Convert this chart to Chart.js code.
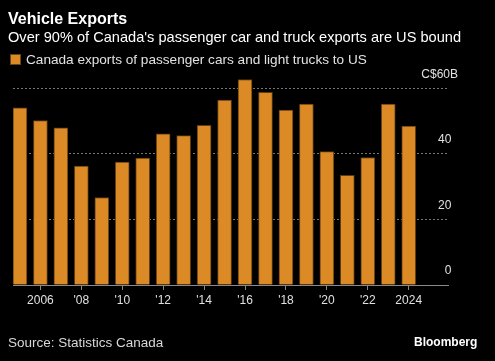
<!DOCTYPE html>
<html>
<head>
<meta charset="utf-8">
<script src="https://cdn.jsdelivr.net/npm/chart.js@4"></script>
<style>
  html, body { margin: 0; padding: 0; background: #000; }
  body { width: 495px; height: 361px; position: relative; overflow: hidden;
         font-family: "Liberation Sans", Arial, sans-serif; }
  #wrap { position: absolute; left: 0; top: 0; width: 495px; height: 361px; }
  .txt { position: absolute; white-space: nowrap; }
  #title { left: 8px; top: 11px; font-size: 16px; line-height: 16px; font-weight: bold; color: #fff; }
  #subtitle { left: 8px; top: 30px; font-size: 14.6px; line-height: 14px; color: #fff; }
  #legend { left: 10px; top: 53px; font-size: 13.6px; line-height: 13px; color: #e2e2e2; }
  #legend .box { display: inline-block; width: 9px; height: 9px; border: 1px solid #6b4513;
                 background: #db8a26; vertical-align: top; margin-top: 1px; margin-right: 5px; }
  #source { left: 8px; top: 336px; font-size: 13.5px; line-height: 13.5px; color: #d8d8d8; }
  #brand { left: 414px; top: 336px; font-size: 12px; line-height: 12px; font-weight: bold; color: #fff; }
</style>
</head>
<body>
<div id="wrap"><canvas id="bar-chart" width="495" height="361"></canvas></div>
<div class="txt" id="title">Vehicle Exports</div>
<div class="txt" id="subtitle">Over 90% of Canada's passenger car and truck exports are US bound</div>
<div class="txt" id="legend"><span class="box"></span><span id="legend-label"></span></div>
<div class="txt" id="source">Source: Statistics Canada</div>
<div class="txt" id="brand">Bloomberg</div>
<script>
// Canada exports of passenger cars and light trucks to US, C$ billions
var years = [2005, 2006, 2007, 2008, 2009, 2010, 2011, 2012, 2013, 2014,
             2015, 2016, 2017, 2018, 2019, 2020, 2021, 2022, 2023, 2024];
var exportsToUS = [54.1, 50.2, 48.0, 36.3, 26.7, 37.5, 38.7, 46.1, 45.6, 48.7,
                   56.4, 62.7, 58.8, 53.4, 55.2, 40.7, 33.5, 38.9, 55.2, 48.5];
var seriesLabel = 'Canada exports of passenger cars and light trucks to US';
var xTicks = [2006, 2008, 2010, 2012, 2014, 2016, 2018, 2020, 2022, 2024];
var yTicks = [0, 20, 40, 60];

document.getElementById('legend-label').textContent = seriesLabel;

var points = years.map(function(y, i) { return { x: y, y: exportsToUS[i] }; });

var ctx = document.getElementById('bar-chart').getContext('2d');
var chart = new Chart(ctx, {
    type: 'bar',
    data: {
        datasets: [{
            label: seriesLabel,
            data: points,
            backgroundColor: '#db8a26',
            borderColor: '#5e3c12',
            borderWidth: 1,
            barThickness: 14
        }]
    },
    options: {
        responsive: false,
        animation: false,
        layout: { padding: { left: 13, right: 47, top: 72, bottom: 46 } },
        plugins: {
            legend: { display: false },
            tooltip: { enabled: false }
        },
        scales: {
            x: {
                type: 'linear',
                offset: false,
                min: 2004.66,
                max: 2025.92,
                afterBuildTicks: function(scale) {
                    scale.ticks = xTicks.map(function(v) { return { value: v }; });
                },
                afterFit: function(scale) { scale.height = 30; },
                grid: {
                    offset: false,
                    drawOnChartArea: false,
                    drawTicks: true,
                    tickLength: 5,
                    color: '#8a8a8a'
                },
                border: { display: true, color: '#8a8a8a', width: 1 },
                ticks: {
                    autoSkip: false,
                    maxRotation: 0,
                    padding: 3,
                    color: '#e0e0e0',
                    font: { family: '"Liberation Sans", Arial, sans-serif', size: 12 },
                    callback: function(v) {
                        if (v === 2006 || v === 2024) return String(v);
                        return "'" + String(v).slice(2);
                    }
                }
            },
            y: {
                position: 'right',
                min: 0,
                max: 65,
                afterBuildTicks: function(scale) {
                    scale.ticks = yTicks.map(function(v) { return { value: v }; });
                },
                afterFit: function(scale) { scale.width = 0; },
                grid: {
                    drawTicks: false,
                    color: function(c) { return c.tick && c.tick.value === 0 ? 'rgba(0,0,0,0)' : '#777777'; },
                    lineWidth: 1
                },
                border: { display: false, dash: [2, 2] },
                ticks: {
                    mirror: true,
                    padding: 10,
                    labelOffset: -14,
                    color: '#e0e0e0',
                    font: { family: '"Liberation Sans", Arial, sans-serif', size: 12 },
                    callback: function(v) {
                        return v === 60 ? 'C$60B' : v + '  ';
                    }
                }
            }
        }
    }
});
</script>
</body>
</html>
